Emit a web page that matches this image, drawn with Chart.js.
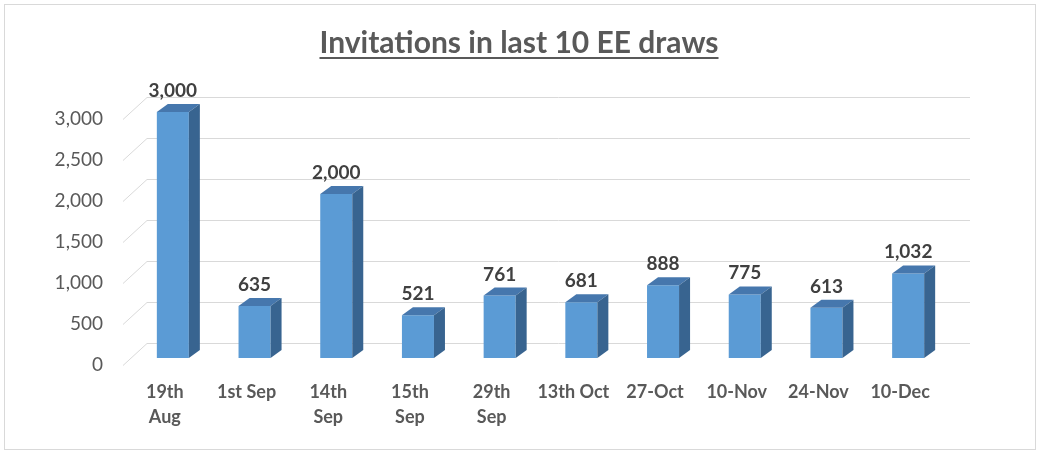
<!DOCTYPE html>
<html>
<head>
<meta charset="utf-8">
<script src="https://cdn.jsdelivr.net/npm/chart.js@4"></script>
<style>
  html, body { margin: 0; padding: 0; background: #fff; }
  #wrap { width: 1040px; height: 456px; position: relative; }
</style>
</head>
<body>
<div id="wrap"><canvas id="drawsChart"></canvas></div>
<script>
// datos del grafico
const drawLabels = [['19th', 'Aug'], '1st Sep', ['14th', 'Sep'], ['15th', 'Sep'], ['29th', 'Sep'],
  '13th Oct', '27-Oct', '10-Nov', '24-Nov', '10-Dec'];
const invitations = [3000, 635, 2000, 521, 761, 681, 888, 775, 613, 1032];
const yTicks = [0, 500, 1000, 1500, 2000, 2500, 3000];
const chartTitle = 'Invitations in last 10 EE draws';

const FONT = 'Lato, "Open Sans", sans-serif';
const DEPTH_X = 11, DEPTH_Y = 8;

// borde, titulo y rejilla de fondo
const frame3d = {
  id: 'frame3d',
  beforeDraw(chart) {
    const ctx = chart.ctx;
    ctx.save();
    ctx.strokeStyle = '#d9d9d9';
    ctx.lineWidth = 1;
    ctx.strokeRect(4.5, 4.5, 1031, 445);
    ctx.restore();
  },
  beforeDatasetsDraw(chart) {
    const ctx = chart.ctx;
    const y = chart.scales.y;
    const area = chart.chartArea;
    ctx.save();
    ctx.strokeStyle = '#d9d9d9';
    ctx.lineWidth = 1;
    yTicks.forEach(v => {
      const py = Math.round(y.getPixelForValue(v));
      ctx.beginPath();
      ctx.moveTo(area.left - 9, py + 7.5);
      ctx.lineTo(area.left + 15, py - 14.5);
      ctx.lineTo(area.right + 21, py - 14.5);
      ctx.stroke();
    });
    ctx.restore();
  },
  afterDatasetsDraw(chart) {
    const ctx = chart.ctx;
    const meta = chart.getDatasetMeta(0);
    ctx.save();
    meta.data.forEach((bar, i) => {
      const p = bar.getProps(['x', 'y', 'width', 'base'], true);
      const l = p.x - p.width / 2, r = p.x + p.width / 2;
      // cara superior
      ctx.fillStyle = '#4677ad';
      ctx.beginPath();
      ctx.moveTo(l, p.y);
      ctx.lineTo(l + DEPTH_X, p.y - DEPTH_Y);
      ctx.lineTo(r + DEPTH_X, p.y - DEPTH_Y);
      ctx.lineTo(r, p.y);
      ctx.closePath();
      ctx.fill();
      // cara lateral
      ctx.fillStyle = '#386490';
      ctx.beginPath();
      ctx.moveTo(r, p.y);
      ctx.lineTo(r + DEPTH_X, p.y - DEPTH_Y);
      ctx.lineTo(r + DEPTH_X, p.base - DEPTH_Y);
      ctx.lineTo(r, p.base);
      ctx.closePath();
      ctx.fill();
      // etiqueta de valor
      ctx.fillStyle = '#404040';
      ctx.font = 'bold 19px ' + FONT;
      ctx.textAlign = 'center';
      ctx.textBaseline = 'alphabetic';
      ctx.fillText(invitations[i].toLocaleString('en-US'), p.x, p.y - 15);
    });
    ctx.restore();
  },
  afterDraw(chart) {
    const ctx = chart.ctx;
    ctx.save();
    ctx.fillStyle = '#595959';
    ctx.font = 'bold 30px ' + FONT;
    ctx.textAlign = 'center';
    ctx.textBaseline = 'alphabetic';
    ctx.fillText(chartTitle, 519, 53);
    const w = ctx.measureText(chartTitle).width;
    ctx.fillRect(519 - w / 2, 57, w, 2);
    ctx.restore();
  }
};

const ctx = document.getElementById('drawsChart').getContext('2d');
const drawsChart = new Chart(ctx, {
  type: 'bar',
  data: {
    labels: drawLabels,
    datasets: [{
      label: 'Invitations',
      data: invitations,
      backgroundColor: '#5b9bd5',
      borderWidth: 0,
      barPercentage: 0.392,
      categoryPercentage: 1
    }]
  },
  options: {
    responsive: true,
    maintainAspectRatio: false,
    animation: false,
    layout: { padding: { left: 0, right: 91, top: 112, bottom: 0 } },
    plugins: {
      legend: { display: false },
      tooltip: { enabled: false },
      title: { display: false }
    },
    scales: {
      x: {
        afterFit(scale) { scale.height = 98; },
        grid: { display: false, drawTicks: false },
        border: { display: false },
        ticks: {
          color: '#595959',
          font: { family: FONT, size: 18, weight: 'bold', lineHeight: 1.39 },
          padding: 22,
          labelOffset: -8,
          maxRotation: 0,
          autoSkip: false
        }
      },
      y: {
        min: 0,
        max: 3000,
        afterFit(scale) { scale.width = 132; },
        afterBuildTicks(scale) { scale.ticks = yTicks.map(v => ({ value: v })); },
        grid: { display: false, drawTicks: false },
        border: { display: false },
        ticks: {
          color: '#595959',
          font: { family: FONT, size: 19 },
          padding: 29,
          labelOffset: 7,
          callback: v => v.toLocaleString('en-US')
        }
      }
    }
  },
  plugins: [frame3d]
});
</script>
</body>
</html>
